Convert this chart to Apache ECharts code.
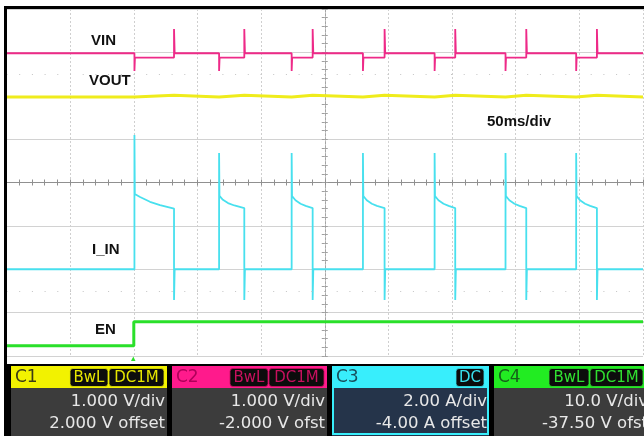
<!DOCTYPE html>
<html><head><meta charset="utf-8">
<script src="https://cdn.jsdelivr.net/npm/echarts@6/dist/echarts.min.js"></script>
<style>html,body{margin:0;padding:0;background:#fff;overflow:hidden}#c{width:644px;height:436px}</style>
</head><body><div id="c"></div>
<script>
// ---- time base: 50 ms/div, 10 div, trigger at 0 ----
const timeMin = -100, timeMax = 400, timeStep = 50;

// ---- channel vertical scaling (scale per div, offset) ----
const chScale  = [1, 1, 2, 10];          // C1 V/div, C2 V/div, C3 A/div, C4 V/div
const chOffset = [2, -2, -4, -37.5];     // offsets

// ---- traces [time ms, value] ----
const vinTrace = [ // C2, V
  [-100,4.98],[0.5,4.98],[0.5,4.57],[0.9,4.88],[31.6,4.88],[31.6,5.54],[32.1,4.98],
  [67,4.98],[67,4.57],[67.4,4.88],[86.8,4.88],[86.8,5.54],[87.3,4.98],
  [124,4.98],[124,4.57],[124.4,4.88],[140.5,4.88],[140.5,5.54],[141,4.98],
  [180,4.98],[180,4.57],[180.4,4.88],[197,4.88],[197,5.54],[197.5,4.98],
  [236.3,4.98],[236.3,4.57],[236.7,4.88],[252.5,4.88],[252.5,5.54],[253,4.98],
  [292,4.98],[292,4.57],[292.4,4.88],[308.3,4.88],[308.3,5.54],[308.8,4.98],
  [347.5,4.98],[347.5,4.57],[347.9,4.88],[363.8,4.88],[363.8,5.54],[364.3,4.98],
  [400,4.98]
];
const voutTrace = [ // C1, V
  [-100,-0.03],[0.5,-0.03],[1,0.01],[31.6,0.01],[32.1,-0.03],
  [67,-0.03],[67.5,0.01],[86.8,0.01],[87.3,-0.03],
  [124,-0.03],[124.5,0.01],[140.5,0.01],[141,-0.03],
  [180,-0.03],[180.5,0.01],[197,0.01],[197.5,-0.03],
  [236.3,-0.03],[236.8,0.01],[252.5,0.01],[253,-0.03],
  [292,-0.03],[292.5,0.01],[308.3,0.01],[308.8,-0.03],
  [347.5,-0.03],[348,0.01],[363.8,0.01],[364.3,-0.03],
  [400,-0.03]
];
const iinTrace = [ // C3, A
  [-100,0],[0.5,0],[0.5,6.19],[0.8,3.47],[4.9,3.33],[12.7,3.11],[20.6,2.96],[31.6,2.8],[31.6,-1.42],[32.1,0],
  [67,0],[67,5.36],[67.3,3.38],[70,3.2],[74,3.05],[79,2.94],[86.8,2.82],[86.8,-1.42],[87.3,0],
  [124,0],[124,5.36],[124.3,3.38],[127,3.18],[131,3.02],[135,2.92],[140.5,2.82],[140.5,-1.42],[141,0],
  [180,0],[180,5.36],[180.3,3.38],[183,3.18],[187,3.02],[191,2.92],[197,2.82],[197,-1.42],[197.5,0],
  [236.3,0],[236.3,5.36],[236.6,3.38],[239.3,3.18],[243.3,3.02],[247.3,2.92],[252.5,2.82],[252.5,-1.42],[253,0],
  [292,0],[292,5.36],[292.3,3.38],[295,3.18],[299,3.02],[303,2.92],[308.3,2.82],[308.3,-1.42],[308.8,0],
  [347.5,0],[347.5,5.36],[347.8,3.38],[350.5,3.18],[354.5,3.02],[358.5,2.92],[363.8,2.82],[363.8,-1.42],[364.3,0],
  [400,0]
];
const enTrace = [ // C4, V
  [-100,-0.15],[0,-0.15],[0,5.4],[400,5.4]
];

// ---- text ----
const traceLabels = ['VIN','VOUT','I_IN','EN'];
const timebaseLabel = '50ms/div';
const channelNames = ['C1','C2','C3','C4'];
const channelScaleText = ['1.000 V/div','1.000 V/div','2.00 A/div','10.0 V/div'];
const channelOffsetText = ['2.000 V offset','-2.000 V ofst','-4.00 A offset','-37.50 V ofst'];
const channelBadges = [['BwL','DC1M'],['BwL','DC1M'],['DC'],['BwL','DC1M']];

// ---- styling ----
const colPink = '#ee2a88', colYellow = '#efec1c', colCyan = '#48e0ee', colGreen = '#2ae02a';
const headerCol = ['#f2f200','#ff1a8c','#38eefc','#22ec22'];
const headerTxt = ['#3c3c14','#b0005a','#18505c','#16601a'];
const badgeTxt  = ['#e6e600','#c8105e','#38e0ee','#30e030'];

function chRange(i){ return [-4*chScale[i]-chOffset[i], 4*chScale[i]-chOffset[i]]; }

const chart = echarts.init(document.getElementById('c'), null, {renderer:'canvas'});
const G = {left:6.5, top:9, width:636.5, height:347};

const hidden = {show:false};
const yAxes = [
  { type:'value', min:-4, max:4, interval:0.2, position:'left',
    axisLine:{show:true, onZero:true, onZeroAxisIndex:1, lineStyle:{color:'#a6a6a6', type:[2,2], width:1}},
    axisTick:{show:true, inside:true, length:3, lineStyle:{color:'#a0a0a0'}},
    axisLabel:{show:false}, splitLine:{show:false} },
  { type:'value', min:-4, max:4, interval:0.2, position:'right',
    axisLine:{show:true, onZero:true, onZeroAxisIndex:1, lineStyle:{color:'#a6a6a6', type:[2,2], width:1}},
    axisTick:{show:true, inside:true, length:3, lineStyle:{color:'#a0a0a0'}},
    axisLabel:{show:false}, splitLine:{show:false} },
  { type:'value', min:-4, max:4, interval:1, show:true,
    axisLine:{show:false, onZero:false}, axisTick:{show:false}, axisLabel:{show:false},
    splitLine:{show:true, lineStyle:{color:'#d2d2d2', width:1}} }
];
for (let i=0;i<4;i++){
  const r = chRange(i);
  yAxes.push({type:'value', min:r[0], max:r[1], show:false, axisLine:{onZero:false}});
}

const option = {
  animation:false,
  backgroundColor:'#ffffff',
  grid: G,
  xAxis: [
    { type:'value', min:timeMin, max:timeMax, interval:timeStep,
      axisLine:{show:false, onZero:false}, axisTick:{show:false}, axisLabel:{show:false},
      splitLine:{show:true, lineStyle:{color:'#cfcfcf', type:[2,2], width:1}} },
    { type:'value', min:-5, max:5, interval:0.2, position:'bottom',
      axisLine:{show:true, onZero:true, onZeroAxisIndex:2, lineStyle:{color:'#909090', width:1}},
      axisTick:{show:true, inside:true, length:3, lineStyle:{color:'#909090'}},
      axisLabel:{show:false}, splitLine:{show:false} },
    { type:'value', min:-5, max:5, interval:0.2, position:'top',
      axisLine:{show:true, onZero:true, onZeroAxisIndex:2, lineStyle:{color:'#909090', width:1}},
      axisTick:{show:true, inside:true, length:3, lineStyle:{color:'#909090'}},
      axisLabel:{show:false}, splitLine:{show:false} }
  ],
  yAxis: yAxes,
  series: [
    { type:'line', name:'halfDiv', xAxisIndex:0, yAxisIndex:2, data:[], silent:true,
      markLine:{ silent:true, symbol:'none', label:{show:false},
        lineStyle:{color:'#c4c4c4', type:[1,11.7], width:1},
        data:[{yAxis:2.5},{yAxis:-2.5}] } },
    { type:'line', name:'VOUT', xAxisIndex:0, yAxisIndex:3, data:voutTrace, symbol:'none',
      lineStyle:{color:colYellow, width:3}, z:3 },
    { type:'line', name:'VIN', xAxisIndex:0, yAxisIndex:4, data:vinTrace, symbol:'none',
      lineStyle:{color:colPink, width:1.8}, z:4 },
    { type:'line', name:'I_IN', xAxisIndex:0, yAxisIndex:5, data:iinTrace, symbol:'none',
      lineStyle:{color:colCyan, width:1.8}, z:4 },
    { type:'line', name:'EN', xAxisIndex:0, yAxisIndex:6, data:enTrace, symbol:'none',
      lineStyle:{color:colGreen, width:3}, z:4 }
  ],
  graphic: []
};

const gfx = [];
// frame
gfx.push({type:'rect', shape:{x:4, y:6, width:3, height:430}, style:{fill:'#000'}, z:100});
gfx.push({type:'rect', shape:{x:4, y:6, width:640, height:3}, style:{fill:'#000'}, z:100});
// trace labels
const lblFont = 'bold 15px "Liberation Sans", Arial, sans-serif';
const lblPos = [[91,41],[89,81],[92,250],[95,330]];
traceLabels.forEach((t,i)=>{
  gfx.push({type:'text', x:lblPos[i][0], y:lblPos[i][1], z:50,
    style:{text:t, font:lblFont, fill:'#111', textAlign:'left', textVerticalAlign:'middle'}});
});
gfx.push({type:'text', x:487, y:122, z:50,
  style:{text:timebaseLabel, font:lblFont, fill:'#111', textAlign:'left', textVerticalAlign:'middle'}});
// trigger marker
gfx.push({type:'polygon', shape:{points:[[131,361],[135.5,361],[133.3,356.5]]}, style:{fill:colGreen}, z:50});
// channel panel
gfx.push({type:'rect', shape:{x:4, y:364, width:640, height:72}, style:{fill:'#000'}, z:60});
const boxX = [11,172,332,494], boxR = [167,327,489,650];
const bodyFont = '16.5px "DejaVu Sans", Verdana, sans-serif';
for (let i=0;i<4;i++){
  const x0 = boxX[i], x1 = boxR[i], w = x1-x0;
  const isSel = (i===2);
  gfx.push({type:'rect', shape:{x:x0, y:366, width:w, height:22}, style:{fill:headerCol[i]}, z:61});
  gfx.push({type:'rect', shape:{x:x0, y:388, width:w, height:48},
    style:{fill: isSel ? '#25344a' : '#3c3c3c'}, z:61});
  if (isSel){
    gfx.push({type:'rect', shape:{x:x0+1, y:367, width:w-2, height:67},
      style:{fill:'none', stroke:headerCol[i], lineWidth:2}, z:62});
  }
  gfx.push({type:'text', x:x0+4, y:377.5, z:63,
    style:{text:channelNames[i], font:'17px "DejaVu Sans", Verdana, sans-serif', fill:headerTxt[i], textAlign:'left', textVerticalAlign:'middle'}});
  const b = channelBadges[i];
  let spans;
  if (b.length===2) spans = [[x1-97,x1-59],[x1-58,x1-3]];
  else spans = [[x1-33,x1-5]];
  if (i===3) spans = [[549,589],[590,643]];
  b.forEach((t,k)=>{
    const s = spans[k];
    gfx.push({type:'rect', shape:{x:s[0], y:368.5, width:s[1]-s[0], height:18, r:3},
      style:{fill:'#0c0c0c', stroke:badgeTxt[i], lineWidth:0.8, opacity:1}, z:63});
    gfx.push({type:'text', x:(s[0]+s[1])/2, y:378, z:64,
      style:{text:t, font:'15px "DejaVu Sans", Verdana, sans-serif', fill:badgeTxt[i], textAlign:'center', textVerticalAlign:'middle'}});
  });
  gfx.push({type:'text', x:x1-2, y:402, z:63,
    style:{text:channelScaleText[i], font:bodyFont, fill:'#e8e8e8', textAlign:'right', textVerticalAlign:'middle'}});
  gfx.push({type:'text', x:x1-2, y:424, z:63,
    style:{text:channelOffsetText[i], font:bodyFont, fill:'#e8e8e8', textAlign:'right', textVerticalAlign:'middle'}});
}
option.graphic = gfx;
chart.setOption(option);
</script>
</body></html>
